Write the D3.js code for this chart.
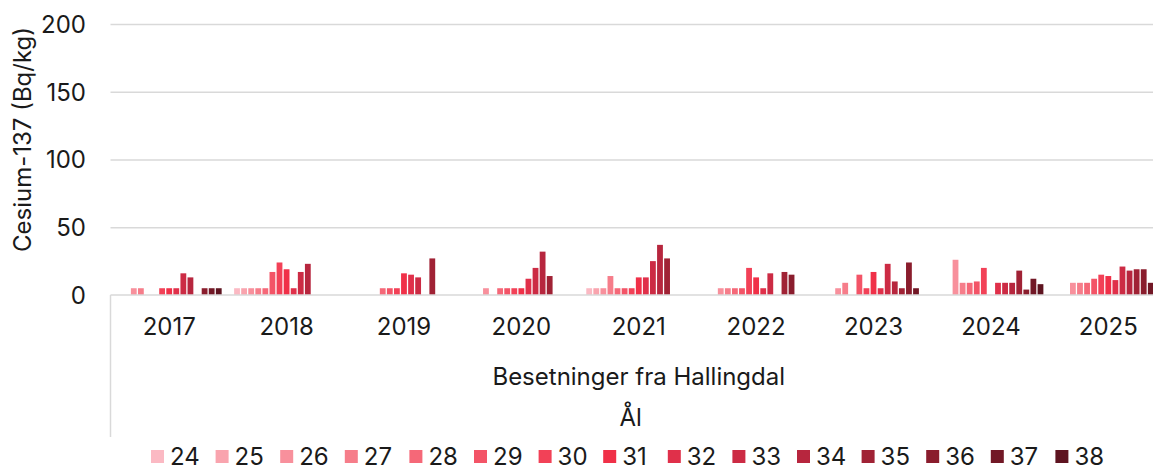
<!DOCTYPE html>
<html>
<head>
<meta charset="utf-8">
<script src="https://cdn.jsdelivr.net/npm/d3@7"></script>
<style>
  html, body { margin: 0; padding: 0; background: #fff; }
  svg { display: block; font-family: "Inter", "Liberation Sans", sans-serif; }
  .grid line { stroke: #d9d9d9; stroke-width: 1.5; }
  .txt { fill: #1a1a1a; font-size: 24px; }
</style>
</head>
<body>
<svg id="chart" width="1153" height="467"></svg>
<script>
// Cesium-137 i besetninger fra Hallingdal (Ål), per år og uke

const years = ["2017", "2018", "2019", "2020", "2021", "2022", "2023", "2024", "2025"];
const weeks = ["24", "25", "26", "27", "28", "29", "30", "31", "32", "33", "34", "35", "36", "37", "38"];
const yTicks = [0, 50, 100, 150, 200];

// verdier per uke (kolonne = år 2017..2025), null = ingen måling
const w24 = [null, 5, null, null, 5, null, null, null, null];
const w25 = [null, 5, null, null, 5, null, null, null, null];
const w26 = [5, 5, null, 5, 5, 5, 5, 26, 9];
const w27 = [5, 5, null, null, 14, 5, 9, 9, 9];
const w28 = [null, 5, 5, 5, 5, 5, null, 9, 9];
const w29 = [null, 17, 5, 5, 5, 5, 15, 10, 12];
const w30 = [5, 24, 5, 5, 5, 20, 5, 20, 15];
const w31 = [5, 19, 16, 5, 13, 13, 17, null, 14];
const w32 = [5, 5, 15, 12, 13, 5, 5, 9, 11];
const w33 = [16, 17, 13, 20, 25, 16, 23, 9, 21];
const w34 = [13, 23, null, 32, 37, null, 10, 9, 18];
const w35 = [null, null, 27, 14, 27, 17, 5, 18, 19];
const w36 = [5, null, null, null, null, 15, 24, 4, 19];
const w37 = [5, null, null, null, null, null, 5, 12, 9];
const w38 = [5, null, null, null, null, null, null, 8, null];
const series = [w24, w25, w26, w27, w28, w29, w30, w31, w32, w33, w34, w35, w36, w37, w38];

const colors = ["#fbb9c3", "#f9a4ae", "#f8909c", "#f67d8a", "#f56878", "#f35467", "#f24157", "#f03048",
                "#e0304a", "#cc2b44", "#b7263e", "#a02235", "#8a1d2d", "#721826", "#5e1420"];

const svg = d3.select("#chart");
const plotL = 110.5, plotR = 1167, plotT = 24, plotB = 295;

const x0 = d3.scaleBand().domain(years).range([plotL, plotR]);
const x1 = d3.scaleBand().domain(weeks).range([0, x0.bandwidth()]).paddingInner(0.18).paddingOuter(0.88);
const y = d3.scaleLinear().domain([0, 200]).range([plotB, plotT]);

// gitter
svg.append("g").attr("class", "grid")
  .attr("transform", `translate(${plotL},0)`)
  .call(d3.axisLeft(y).tickValues(yTicks.slice(1)).tickSize(-(plotR - plotL)).tickFormat(""))
  .call(g => g.select(".domain").remove());

// y-akse tekst
svg.append("g").selectAll("text").data(yTicks).enter().append("text")
  .attr("class", "txt")
  .attr("x", 86).attr("y", d => y(d)).attr("dy", "0.37em")
  .attr("text-anchor", "end").text(d => d);

svg.append("text").attr("class", "txt")
  .attr("transform", `translate(31,${(plotT + plotB) / 2 - 20}) rotate(-90)`)
  .attr("text-anchor", "middle").text("Cesium-137 (Bq/kg)");

// søyler
const groups = svg.append("g").selectAll("g").data(series).enter().append("g")
  .attr("fill", (_, i) => colors[i]);

groups.selectAll("rect")
  .data((vals, i) => vals.map((v, j) => ({ v, year: years[j], week: weeks[i] })).filter(d => d.v != null))
  .enter().append("rect")
  .attr("x", d => x0(d.year) + x1(d.week))
  .attr("width", x1.bandwidth())
  .attr("y", d => y(d.v))
  .attr("height", d => plotB - y(d.v));

// kategori-akse
svg.append("line").attr("x1", plotL).attr("x2", 1153).attr("y1", plotB).attr("y2", plotB)
  .attr("stroke", "#d9d9d9").attr("stroke-width", 1.7);
svg.append("line").attr("x1", plotL).attr("x2", plotL).attr("y1", plotB).attr("y2", 437)
  .attr("stroke", "#d9d9d9").attr("stroke-width", 1.5);

svg.append("g").selectAll("text").data(years).enter().append("text")
  .attr("class", "txt")
  .attr("x", d => x0(d) + x0.bandwidth() / 2).attr("y", 335)
  .attr("text-anchor", "middle").text(d => d);

svg.append("text").attr("class", "txt")
  .attr("x", (plotL + plotR) / 2).attr("y", 385)
  .attr("text-anchor", "middle").text("Besetninger fra Hallingdal");

svg.append("text").attr("class", "txt")
  .attr("x", (plotL + plotR) / 2 - 8).attr("y", 426)
  .attr("text-anchor", "middle").text("Ål");

// legende
const leg = svg.append("g").selectAll("g").data(weeks).enter().append("g")
  .attr("transform", (_, i) => `translate(${151 + i * 64.6},450)`);
leg.append("rect").attr("width", 13).attr("height", 13).attr("fill", (_, i) => colors[i]);
leg.append("text").attr("class", "txt").attr("x", 19).attr("y", 15).text(d => d);
</script>
</body>
</html>
